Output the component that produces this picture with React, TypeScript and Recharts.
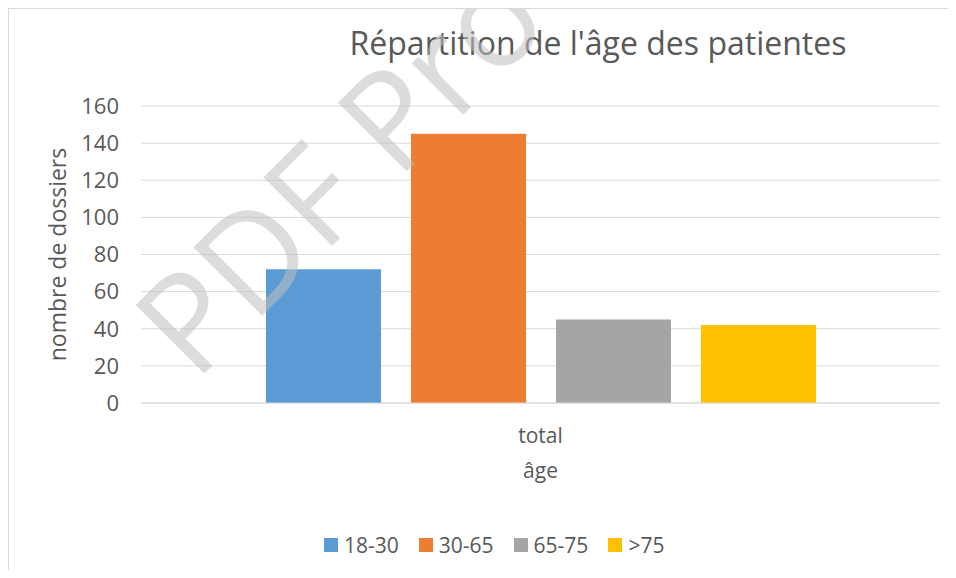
import React from "react";
import {
    Bar,
    BarChart,
    CartesianGrid,
    Legend,
    XAxis,
    YAxis
} from "recharts";

const categories = ["total"];
const seriesNames = ["18-30", "30-65", "65-75", ">75"];
const seriesValues = [72, 145, 45, 42];
const seriesColors = ["#5B9BD5", "#ED7D31", "#A5A5A5", "#FFC000"];
const yTicks = [0, 20, 40, 60, 80, 100, 120, 140, 160];

const chartTitle = "Répartition de l'âge des patientes";
const yTitle = "nombre de dossiers";
const xTitle = "âge";
const watermark = "PDF Pro";

const FONT = "'Open Sans', sans-serif";
const TEXT = "#595959";
const GRID = "#d9d9d9";

const data = categories.map((category) => {
    const row: Record<string, string | number> = {category};
    seriesNames.forEach((name, i) => {
        row[name] = seriesValues[i];
    });
    return row;
});

const LegendContent = (props: any) => {
    const {payload = []} = props;
    return (
        <div style={{display: "flex", height: 24, alignItems: "center", fontFamily: FONT, fontSize: 21, color: TEXT}}>
            {payload.map((entry: any) => (
                <div key={entry.value} style={{display: "flex", alignItems: "center", marginRight: 20}}>
                    <span style={{display: "inline-block", width: 14, height: 14, background: entry.color, marginRight: 6}}/>
                    <span>{entry.value}</span>
                </div>
            ))}
        </div>
    );
};

const App = () => {
    return (
        <div style={{
            position: "relative",
            width: 948,
            height: 562,
            boxSizing: "border-box",
            borderTop: `1px solid ${GRID}`,
            borderLeft: `1px solid ${GRID}`,
            background: "#fff"
        }}>
            <BarChart
                width={947}
                height={561}
                data={data}
                margin={{top: 97, right: 16, left: 0, bottom: 13}}
                barCategoryGap={125}
                barGap={30}
                style={{fontFamily: FONT}}
            >
                <text x={589} y={46} textAnchor="middle" fontSize={32} fill={TEXT} fontFamily={FONT}>
                    {chartTitle}
                </text>
                <CartesianGrid vertical={false} stroke={GRID} strokeWidth={1}/>
                <XAxis
                    dataKey="category"
                    height={130}
                    tickLine={false}
                    tickSize={0}
                    tickMargin={25}
                    axisLine={{stroke: GRID}}
                    tick={{fill: TEXT, fontSize: 21, fontFamily: FONT}}
                    label={{value: xTitle, position: "insideTop", offset: 60, fill: TEXT, fontSize: 21, fontFamily: FONT}}
                />
                <YAxis
                    width={132}
                    domain={[0, 160]}
                    ticks={yTicks}
                    tickLine={false}
                    tickSize={0}
                    tickMargin={22}
                    axisLine={false}
                    tick={{fill: TEXT, fontSize: 22, fontFamily: FONT}}
                    label={{
                        value: yTitle,
                        angle: -90,
                        position: "insideLeft",
                        offset: 49,
                        fill: TEXT,
                        fontSize: 23,
                        fontFamily: FONT,
                        style: {textAnchor: "middle"}
                    }}
                />
                <Legend
                    verticalAlign="bottom"
                    content={<LegendContent/>}
                    wrapperStyle={{left: 315, bottom: 13, width: 440}}
                />
                {seriesNames.map((name, i) => (
                    <Bar key={name} dataKey={name} name={name} fill={seriesColors[i]} isAnimationActive={false}/>
                ))}
            </BarChart>
            <svg
                width={947}
                height={561}
                style={{position: "absolute", left: 0, top: 0, pointerEvents: "none"}}
            >
                <text
                    x={186}
                    y={374}
                    transform="rotate(-45 186 374)"
                    fontSize={136}
                    fontFamily={FONT}
                    fill="#bfbfbf"
                    fillOpacity={0.55}
                >
                    {watermark}
                </text>
            </svg>
        </div>
    );
};

export default App;
